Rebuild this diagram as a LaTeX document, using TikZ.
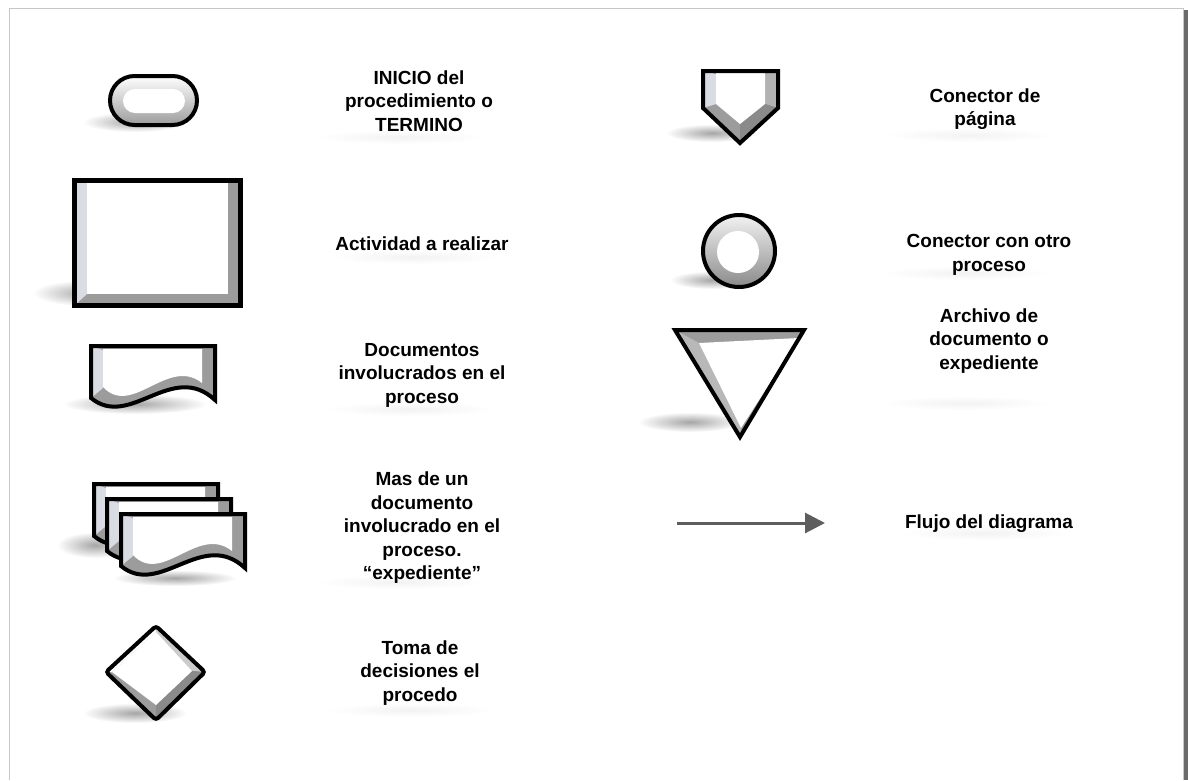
\documentclass[tikz,border=0pt]{standalone}
\usepackage{fontspec}
\setmainfont{Liberation Sans}
\usetikzlibrary{arrows.meta}
\definecolor{bevelgray}{HTML}{9C9C9C}
\definecolor{bevellight}{HTML}{D9DCE2}
\definecolor{beveldark}{HTML}{8A8A8A}
\definecolor{flowgray}{HTML}{5E5E5E}
\tikzset{
	outline/.style={draw=black, line width=4pt},
	shadow/.style={inner color=black!35, outer color=white},
	txtshadow/.style={inner color=black!5, outer color=white},
	legend/.style={align=center, inner sep=0pt, font=\bfseries\fontsize{19}{23.5}\selectfont},
	pics/docshape/.style={code={
		\fill[bevelgray] (0,0) -- (124,0) -- (124,54) .. controls (81,14) and (39,84) .. (0,52) -- cycle;
		\fill[bevellight] (0,0) -- (12,4) -- (12,42) -- (0,52) -- cycle;
		\fill[white] (12,3) -- (111,3) -- (111,37) .. controls (77,10) and (41,72) .. (12,41) -- cycle;
		\draw[outline] (0,0) -- (124,0) -- (124,54) .. controls (81,14) and (39,84) .. (0,52) -- cycle;
	}},
}

\begin{document}
\begin{tikzpicture}[x=1pt, y=-1pt,
	flow/.style={draw=flowgray, line width=3pt, -{Triangle[length=20pt,width=20pt]}}]
	\useasboundingbox (0,0) rectangle (1188,780);
	
	% page frame
	\draw[black!22, line width=1pt] (9,780) -- (9,8) -- (1183,8) -- (1183,780);
	\fill[black!58] (1184,10) rectangle (1188,780);
	
	% shadows
	\shade[shadow] (135,122) ellipse (52 and 10);
	\shade[shadow] (88,293) ellipse (55 and 13);
	\shade[shadow] (135,404) ellipse (72 and 10);
	\shade[shadow] (95,545) ellipse (38 and 13);
	\shade[shadow] (175,578) ellipse (62 and 8);
	\shade[shadow] (135,713) ellipse (52 and 10);
	\shade[shadow] (712,133) ellipse (46 and 9);
	\shade[shadow] (712,280) ellipse (42 and 9);
	\shade[shadow] (690,422) ellipse (52 and 10);
	\foreach \sx/\sy in {400/137, 415/257, 410/409, 400/582, 410/710, 970/135, 965/273, 965/403, 985/533}
	\shade[txtshadow] (\sx,\sy) ellipse (85 and 7);
	
	% terminal
	\shade[top color=white, bottom color=bevelgray, rounded corners=24.5pt] (110,76) rectangle (197,125);
	\fill[white, rounded corners=12pt] (123,89) rectangle (185,113);
	\draw[outline, rounded corners=24.5pt] (110,76) rectangle (197,125);
	
	% activity
	\fill[bevelgray] (74.5,180.5) rectangle (240.5,305.5);
	\fill[bevellight] (74.5,180.5) -- (87,183) -- (87,294) -- (74.5,305.5) -- cycle;
	\fill[white] (87,180.5) rectangle (228,294);
	\draw[outline, line width=5pt] (74.5,180.5) rectangle (240.5,305.5);
	
	% documents
	\pic at (91,346) {docshape};
	\pic at (94,484) {docshape};
	\pic at (107,499) {docshape};
	\pic at (121,514) {docshape};
	
	% decision
	\fill[bevelgray] (156,626) -- (205,672) -- (156,720) -- (106,672) -- cycle;
	\fill[black!20] (156,626) -- (205,672) -- (192,671) -- (156,632) -- cycle;
	\fill[beveldark] (205,672) -- (156,720) -- (156,705) -- (192,671) -- cycle;
	\fill[white] (156,626) -- (156,632) -- (112,672) -- (106,672) -- cycle;
	\fill[white] (156,632) -- (192,671) -- (156,705) -- (112,672) -- cycle;
	\draw[outline, rounded corners=3pt] (156,626) -- (205,672) -- (156,720) -- (106,672) -- cycle;
	
	% page connector
	\fill[bevelgray] (703,71) -- (778,71) -- (778,108) -- (740,143) -- (703,108) -- cycle;
	\fill[bevellight] (703,71) -- (716,74) -- (716,104) -- (703,108) -- cycle;
	\fill[black!30] (778,71) -- (765,74) -- (765,104) -- (778,108) -- cycle;
	\fill[beveldark] (778,108) -- (765,104) -- (740,124) -- (740,143) -- cycle;
	\fill[white] (716,73) -- (765,73) -- (765,104) -- (740,124) -- (716,104) -- cycle;
	\draw[outline] (703,71) -- (778,71) -- (778,108) -- (740,143) -- (703,108) -- cycle;
	
	% process connector
	\shade[top color=black!5, bottom color=beveldark] (739,251) circle (36);
	\fill[white] (738,252) circle (21);
	\draw[outline] (739,251) circle (36);
	
	% file
	\fill[bevelgray] (675,330) -- (804,330) -- (740,437) -- cycle;
	\fill[black!28] (675,330) -- (699,343) -- (741,428) -- (740,437) -- cycle;
	\fill[white] (699,343) -- (799,338) -- (741,428) -- cycle;
	\draw[outline] (675,330) -- (804,330) -- (740,437) -- cycle;
	
	% flow arrow
	\coordinate (flowStart) at (677,523);
	\coordinate (flowEnd) at (825,523);
	\draw[flow] (flowStart) -- (flowEnd);
	
	% labels
	\node[legend] (lblInicio) at (419,101) {INICIO del\\procedimiento o\\TERMINO};
	\node[legend] (lblActividad) at (422,244) {Actividad a realizar};
	\node[legend] (lblDocumentos) at (422,375) {Documentos\\involucrados en el\\proceso};
	\node[legend] (lblExpediente) at (422,528) {Mas de un\\documento\\involucrado en el\\proceso.\\“expediente”};
	\node[legend] (lblDecision) at (420,673) {Toma de\\decisiones el\\procedo};
	\node[legend] (lblPagina) at (985,109) {Conector de\\página};
	\node[legend] (lblProceso) at (989,255) {Conector con otro\\proceso};
	\node[legend] (lblArchivo) at (989,341) {Archivo de\\documento o\\expediente};
	\node[legend] (lblFlujo) at (989,524) {Flujo del diagrama};
\end{tikzpicture}
\end{document}
